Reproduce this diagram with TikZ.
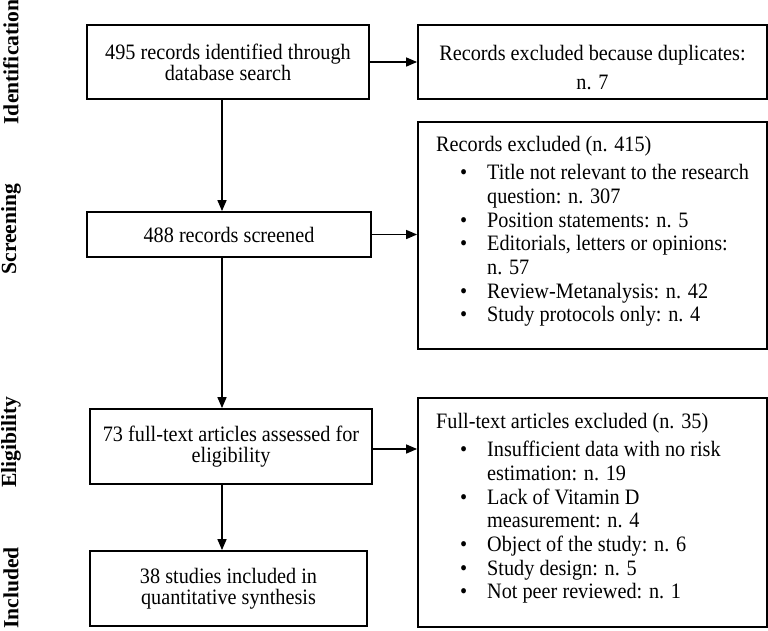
\documentclass[tikz,border=0pt]{standalone}
\usepackage{fontspec}
\setmainfont{Liberation Serif}[FakeStretch=0.92]
\newfontfamily\phasefont{Liberation Serif}
\usetikzlibrary{arrows.meta}
\tikzset{
  box/.style={draw, line width=1.8pt, inner sep=0pt, align=center},
  flow/.style={line width=1.5pt, -{Triangle[length=11pt,width=9pt]}},
  phase/.style={rotate=90, inner sep=0pt, font=\phasefont\bfseries\fontsize{21.6}{24}\selectfont},
  listtxt/.style={anchor=base west, inner sep=0pt, font=\fontsize{22}{23.7}\selectfont}
}
\newcommand{\bul}{\makebox[7pt][c]{\textbullet}}

\begin{document}
\begin{tikzpicture}[x=1pt, y=-1pt, font=\fontsize{22}{21}\selectfont]
  \useasboundingbox (0,0) rectangle (768,630);
  % phase labels
  \node[phase] (ident) at (11,62) {Identification};
  \node[phase] (screen) at (11,229) {Screening};
  \node[phase] (elig) at (11,442) {Eligibility};
  \node[phase] (incl) at (11,588) {Included};
  % left column
  \node[box, minimum width=282pt, minimum height=74pt] (found) at (228,62) {495 records identified through\\database search};
  \node[box, minimum width=284pt, minimum height=45pt] (screened) at (229,234.5) {488 records screened};
  \node[box, minimum width=282pt, minimum height=75pt] (assessed) at (231,446.5) {73 full-text articles assessed for\\eligibility};
  \node[box, minimum width=277pt, minimum height=75pt] (included) at (228.5,588.5) {38 studies included in\\quantitative synthesis};
  % right column
  \node[box, minimum width=349pt, minimum height=74pt, text height=55pt] (dupl) at (592.5,62) {Records excluded because duplicates:\\[8pt]n. 7};
  \node[box, minimum width=349pt, minimum height=227pt] (exclA) at (592.5,235.5) {};
  \node[box, minimum width=349pt, minimum height=229pt] (exclB) at (592.5,512.5) {};
  \node[listtxt] (exclAtxt) at (436,151) {\begin{tabular}[t]{@{\hspace{24pt}}l@{\hspace{20pt}}l@{}}
    \multicolumn{2}{@{}l@{}}{Records excluded (n. 415)}\\[5pt]
    \bul & Title not relevant to the research\\
         & question: n. 307\\
    \bul & Position statements: n. 5\\
    \bul & Editorials, letters or opinions:\\
         & n. 57\\
    \bul & Review-Metanalysis: n. 42\\
    \bul & Study protocols only: n. 4
  \end{tabular}};
  \node[listtxt] (exclBtxt) at (436,428) {\begin{tabular}[t]{@{\hspace{24pt}}l@{\hspace{20pt}}l@{}}
    \multicolumn{2}{@{}l@{}}{Full-text articles excluded (n. 35)}\\[5pt]
    \bul & Insufficient data with no risk\\
         & estimation: n. 19\\
    \bul & Lack of Vitamin D\\
         & measurement: n. 4\\
    \bul & Object of the study: n. 6\\
    \bul & Study design: n. 5\\
    \bul & Not peer reviewed: n. 1
  \end{tabular}};
  % connectors
  \coordinate (trunk) at (222,0);
  \draw[flow] (found.south -| trunk) -- (screened.north -| trunk);
  \draw[flow] (screened.south -| trunk) -- (assessed.north -| trunk);
  \draw[flow] (assessed.south -| trunk) -- (included.north -| trunk);
  \draw[flow] (found.east) -- (dupl.west);
  \draw[flow] (screened.east) -- (screened.east -| exclA.west);
  \draw[flow] ([yshift=-2.5pt]assessed.east) -- ([yshift=-2.5pt]assessed.east -| exclB.west);
\end{tikzpicture}
\end{document}
